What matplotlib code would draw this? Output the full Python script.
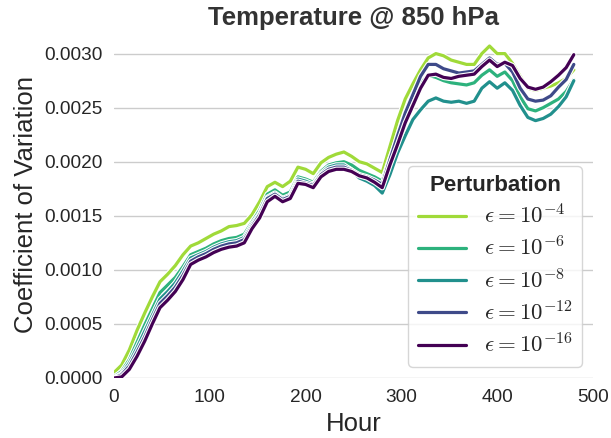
import matplotlib
matplotlib.use("Agg")
import matplotlib.pyplot as plt
import matplotlib.patheffects as pe
import numpy as np
import seaborn as sns

sns.set_style("whitegrid")
plt.rcParams["font.family"] = ["Liberation Sans", "DejaVu Sans"]
plt.rcParams["mathtext.fontset"] = "cm"

hours = np.arange(0, 481, 8)

cv_e4 = [0.00005, 0.00012, 0.00026, 0.00044, 0.00060, 0.00075, 0.00089, 0.00096,
         0.00104, 0.00114, 0.00122, 0.00125, 0.00129, 0.00133, 0.00136, 0.00140,
         0.00141, 0.00143, 0.00151, 0.00163, 0.00177, 0.00181, 0.00177, 0.00182,
         0.00195, 0.00193, 0.00189, 0.00199, 0.00204, 0.00207, 0.00209, 0.00205,
         0.00200, 0.00198, 0.00194, 0.00190, 0.00214, 0.00238, 0.00258, 0.00272,
         0.00285, 0.00296, 0.00300, 0.00298, 0.00294, 0.00292, 0.00290, 0.00290,
         0.00300, 0.00307, 0.00300, 0.00300, 0.00291, 0.00279, 0.00268, 0.00266,
         0.00268, 0.00270, 0.00273, 0.00277, 0.00285]

cv_e6 = [0.00001, 0.00006, 0.00017, 0.00033, 0.00049, 0.00064, 0.00079, 0.00086,
         0.00093, 0.00103, 0.00114, 0.00117, 0.00120, 0.00124, 0.00127, 0.00129,
         0.00130, 0.00133, 0.00144, 0.00155, 0.00170, 0.00174, 0.00169, 0.00172,
         0.00186, 0.00184, 0.00181, 0.00191, 0.00197, 0.00199, 0.00200, 0.00197,
         0.00192, 0.00189, 0.00186, 0.00182, 0.00203, 0.00222, 0.00242, 0.00258,
         0.00272, 0.00280, 0.00278, 0.00275, 0.00273, 0.00272, 0.00271, 0.00273,
         0.00280, 0.00285, 0.00279, 0.00283, 0.00275, 0.00260, 0.00249, 0.00247,
         0.00250, 0.00254, 0.00258, 0.00265, 0.00276]

cv_e8 = [0.00000, 0.00004, 0.00014, 0.00028, 0.00043, 0.00058, 0.00073, 0.00080,
         0.00088, 0.00099, 0.00111, 0.00114, 0.00117, 0.00121, 0.00124, 0.00126,
         0.00127, 0.00130, 0.00142, 0.00152, 0.00167, 0.00171, 0.00166, 0.00169,
         0.00184, 0.00182, 0.00179, 0.00189, 0.00195, 0.00197, 0.00197, 0.00192,
         0.00185, 0.00182, 0.00178, 0.00171, 0.00188, 0.00208, 0.00224, 0.00239,
         0.00248, 0.00256, 0.00259, 0.00256, 0.00255, 0.00256, 0.00254, 0.00256,
         0.00268, 0.00274, 0.00268, 0.00273, 0.00266, 0.00252, 0.00241, 0.00238,
         0.00240, 0.00244, 0.00251, 0.00260, 0.00275]

cv_e12 = [0.00000, 0.00003, 0.00011, 0.00024, 0.00038, 0.00054, 0.00069, 0.00076,
          0.00084, 0.00095, 0.00108, 0.00112, 0.00115, 0.00119, 0.00122, 0.00124,
          0.00125, 0.00128, 0.00140, 0.00151, 0.00166, 0.00170, 0.00165, 0.00168,
          0.00182, 0.00180, 0.00178, 0.00188, 0.00193, 0.00195, 0.00195, 0.00192,
          0.00188, 0.00186, 0.00183, 0.00179, 0.00202, 0.00224, 0.00245, 0.00262,
          0.00279, 0.00290, 0.00290, 0.00286, 0.00284, 0.00282, 0.00283, 0.00284,
          0.00290, 0.00296, 0.00290, 0.00291, 0.00283, 0.00268, 0.00258, 0.00256,
          0.00257, 0.00261, 0.00269, 0.00276, 0.00290]

cv_e16 = [0.00000, 0.00001, 0.00008, 0.00020, 0.00034, 0.00050, 0.00065, 0.00072,
          0.00080, 0.00091, 0.00105, 0.00109, 0.00112, 0.00116, 0.00119, 0.00121,
          0.00122, 0.00125, 0.00138, 0.00148, 0.00163, 0.00168, 0.00163, 0.00166,
          0.00180, 0.00179, 0.00176, 0.00186, 0.00191, 0.00193, 0.00193, 0.00191,
          0.00187, 0.00185, 0.00181, 0.00176, 0.00197, 0.00216, 0.00236, 0.00252,
          0.00268, 0.00280, 0.00281, 0.00278, 0.00277, 0.00279, 0.00280, 0.00281,
          0.00288, 0.00294, 0.00288, 0.00292, 0.00289, 0.00277, 0.00269, 0.00267,
          0.00269, 0.00274, 0.00280, 0.00287, 0.00299]

labels = [r"$\epsilon = 10^{-4}$", r"$\epsilon = 10^{-6}$", r"$\epsilon = 10^{-8}$",
          r"$\epsilon = 10^{-12}$", r"$\epsilon = 10^{-16}$"]
series = [cv_e4, cv_e6, cv_e8, cv_e12, cv_e16]
colors = ["#a0da39", "#2db27d", "#21908d", "#3e4a89", "#440154"]

fig = plt.figure(figsize=(6.11, 4.38), dpi=100)
ax = fig.add_axes([0.1866, 0.137, 0.7839, 0.79])

for vals, lab, col in zip(series, labels, colors):
    ax.plot(hours, vals, color=col, lw=2.3, label=lab,
            path_effects=[pe.Stroke(linewidth=3.9, foreground="white"), pe.Normal()])

ax.set_xlim(0, 500)
ax.set_ylim(0, 0.0032)
ax.set_xticks(np.arange(0, 501, 100))
ax.set_yticks(np.arange(0, 0.00301, 0.0005))
ax.yaxis.set_major_formatter(matplotlib.ticker.FormatStrFormatter("%.4f"))
ax.tick_params(labelsize=13.7, colors="#262626", length=0, pad=8)
ax.grid(axis="x", visible=False)
ax.grid(axis="y", color="#cccccc", lw=1)
for s in ax.spines.values():
    s.set_visible(False)

ax.set_xlabel("Hour", fontsize=18.5, color="#262626", labelpad=4)
ax.set_ylabel("Coefficient of Variation", fontsize=18.5, color="#262626", labelpad=5)
ax.set_title("Temperature @ 850 hPa", fontsize=18.5, fontweight="bold", color="#333333", pad=5)

leg = ax.legend(title="Perturbation", loc="lower right", bbox_to_anchor=(0.977, 0.032),
                borderaxespad=0, fontsize=16.5, frameon=True, handlelength=2.1,
                labelspacing=0.35)
leg.get_title().set_fontweight("bold")
leg.get_title().set_fontsize(16)
leg.get_frame().set_edgecolor("#cccccc")

fig.savefig("out.png", dpi=100)
